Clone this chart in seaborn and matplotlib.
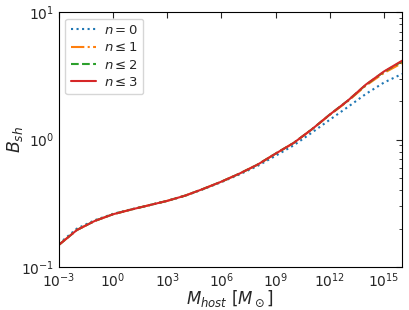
import numpy as np
import pandas as pd
import matplotlib
matplotlib.use("Agg")
import matplotlib.pyplot as plt
import seaborn as sns

log_mhost = [-3, -2, -1, 0, 1, 2, 3, 4, 5, 6, 7, 8, 9, 10, 11, 12, 13, 14, 15, 16]
b_n0 = [0.152, 0.200, 0.233, 0.261, 0.283, 0.305, 0.330, 0.362, 0.408, 0.463, 0.532, 0.620, 0.745, 0.900, 1.13, 1.43, 1.80, 2.28, 2.80, 3.27]
b_n1 = [0.149, 0.195, 0.230, 0.259, 0.282, 0.305, 0.330, 0.363, 0.410, 0.467, 0.540, 0.635, 0.775, 0.940, 1.20, 1.56, 2.00, 2.65, 3.33, 3.98]
b_n2 = [0.149, 0.195, 0.230, 0.259, 0.282, 0.305, 0.330, 0.363, 0.410, 0.467, 0.540, 0.635, 0.775, 0.940, 1.20, 1.57, 2.02, 2.69, 3.40, 4.10]
b_n3 = [0.149, 0.195, 0.230, 0.259, 0.282, 0.305, 0.330, 0.363, 0.410, 0.467, 0.540, 0.635, 0.775, 0.940, 1.20, 1.57, 2.02, 2.70, 3.42, 4.15]
labels = [r"$n=0$", r"$n\leq1$", r"$n\leq2$", r"$n\leq3$"]

series = [b_n0, b_n1, b_n2, b_n3]
rows = []
for lab, vals in zip(labels, series):
    for lm, v in zip(log_mhost, vals):
        rows.append({"M": 10.0 ** lm, "B": v, "series": lab})
df = pd.DataFrame(rows)

sns.set_style("white")
plt.rcParams["font.family"] = ["DejaVu Sans"]
plt.rcParams["mathtext.fontset"] = "dejavusans"

fig = plt.figure(figsize=(4.09, 3.10), dpi=100)
ax = fig.add_axes([0.144, 0.139, 0.839, 0.822])

colors = ["#1f77b4", "#ff7f0e", "#2ca02c", "#d62728"]
styles = [(0, (1, 1.65)), (0, (6.4, 1.6, 1, 1.6)), (0, (3.7, 1.6)), "-"]
for lab, vals, c, ls in zip(labels, series, colors, styles):
    sub = df[df["series"] == lab]
    sns.lineplot(data=sub, x="M", y="B", ax=ax, color=c, linestyle=ls,
                 linewidth=1.5, label=lab)

ax.set_xscale("log")
ax.set_yscale("log")
ax.set_xlim(1e-3, 1e16)
ax.set_ylim(1e-1, 1e1)
ax.set_xticks([10.0 ** k for k in range(-3, 16, 3)])
ax.xaxis.set_minor_locator(matplotlib.ticker.NullLocator())
ax.tick_params(which="both", direction="in", top=True, right=True, labelsize=10)
ax.tick_params(which="major", length=4, width=0.8)
ax.tick_params(which="minor", length=2, width=0.6)
for s in ax.spines.values():
    s.set_color("black")
    s.set_linewidth(0.8)

ax.set_xlabel(r"$M_{host}\ [M_\odot]$", fontsize=12)
ax.set_ylabel(r"$B_{sh}$", fontsize=12.5)
ax.xaxis.set_label_coords(0.5, -0.085)
ax.yaxis.set_label_coords(-0.1, 0.5)
ax.legend(loc="upper left", fontsize=9.5, labelspacing=0.33, handlelength=1.9,
          handletextpad=0.6, frameon=True, fancybox=True, framealpha=0.8,
          borderpad=0.4)

fig.savefig("out.png", dpi=100)
